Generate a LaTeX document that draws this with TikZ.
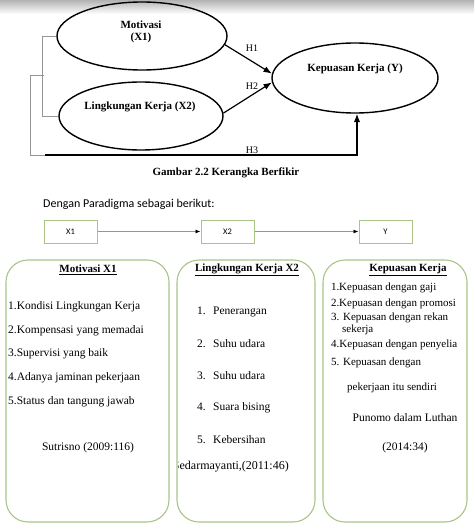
\documentclass[tikz,border=0pt]{standalone}
\usepackage{fontspec}
\setmainfont{Liberation Serif}
\newfontfamily\calibri{Carlito}
\usetikzlibrary{arrows.meta,shapes.geometric,positioning}
\definecolor{panelgreen}{RGB}{169,196,135}
\definecolor{linegray}{RGB}{150,150,150}

\begin{document}
\begin{tikzpicture}[x=1pt, y=-1pt, >=Latex,
    var/.style={draw, line width=1.4pt, ellipse, inner sep=0pt},
    vartext/.style={font=\bfseries\fontsize{11}{12.5}\selectfont, align=center, inner sep=0pt},
    hyp/.style={font=\fontsize{10}{12}\selectfont, inner sep=0pt},
    bracket/.style={draw, linegray, line width=0.6pt},
    box/.style={draw, panelgreen, line width=1pt, minimum width=53pt, minimum height=23pt, inner sep=0pt, text=black, font=\calibri\fontsize{8.5}{10}\selectfont},
    panel/.style={draw, panelgreen, line width=1.1pt, rounded corners=22pt, inner sep=0pt},
    item/.style={anchor=west, inner sep=0pt, font=\fontsize{11.5}{13}\selectfont},
    title/.style={inner sep=0pt, font=\bfseries\fontsize{11}{13}\selectfont}]
    \useasboundingbox (0,0) rectangle (474,530);

    % Shadow along the top edge
    \shade[top color=black!30, bottom color=white] (0,0) rectangle (474,14);

    % Variables
    \node[var, minimum width=170pt, minimum height=68pt] (motiv) at (142,36) {};
    \node[var, minimum width=164pt, minimum height=68pt] (lingk) at (141,116) {};
    \node[var, minimum width=166pt, minimum height=70pt] (kepuas) at (355,78) {};
    \node[vartext] (motivtxt) at (141,32) {Motivasi\\(X1)};
    \node[vartext] (lingktxt) at (140,107) {Lingkungan Kerja (X2)};
    \node[vartext] (kepuastxt) at (355,69) {Kepuasan Kerja (Y)};

    % Hypotheses
    \draw[->, line width=1.2pt] (motiv.-6) -- (kepuas.177);
    \draw[->, line width=1.2pt] (lingk.2) -- (kepuas.183);
    \node[hyp] (h1) at (252,48) {H1};
    \node[hyp] (h2) at (252,86) {H2};

    % Joint effect H3
    \coordinate (h3start) at (45,155);
    \draw[bracket] (motiv.west) -- ++(-14,0) |- (lingk.west);
    \draw[bracket] (44,75) -- (30,75) |- (h3start);
    \draw[->, line width=1.2pt] (h3start) -| ([xshift=2pt]kepuas.south);
    \node[hyp] (h3) at (252,150) {H3};

    % Caption
    \node[inner sep=0pt, font=\bfseries\fontsize{11}{12}\selectfont] (caption) at (226,173) {Gambar 2.2 Kerangka Berfikir};

    % Paradigm
    \node[anchor=west, inner sep=0pt, font=\calibri\fontsize{12}{14}\selectfont] (intro) at (43,204) {Dengan Paradigma sebagai berikut:};
    \node[box] (bx1) at (70.5,231.5) {X1};
    \node[box] (bx2) at (227.5,231.5) {X2};
    \node[box] (by) at (385.5,231.5) {Y};
    \draw[linegray, line width=0.8pt, -{Latex[black, length=5pt, width=4pt]}] (bx1) -- (bx2);
    \draw[linegray, line width=0.8pt, -{Latex[black, length=5pt, width=4pt]}] (bx2) -- (by);

    % Panels
    \node[panel, minimum width=163pt, minimum height=262pt] (pmotiv) at (87.5,391) {};
    \node[panel, minimum width=138pt, minimum height=262pt] (plingk) at (246,391) {};
    \node[panel, minimum width=144pt, minimum height=262pt] (pkepuas) at (395,391) {};

    % Motivasi X1
    \node[title] (tmotiv) at (88,270) {\underline{Motivasi X1}};
    \foreach \t/\y [count=\i] in {Kondisi Lingkungan Kerja/307, Kompensasi yang memadai/331, Supervisi yang baik/354, Adanya jaminan pekerjaan/378, Status dan tangung jawab/402}
        \node[item] (m\i) at (8,\y) {\i.\t};
    \node[item, anchor=center] (srcmotiv) at (88,448) {Sutrisno (2009:116)};

    % Lingkungan Kerja X2
    \node[title] (tlingk) at (247,270) {\underline{Lingkungan Kerja X2}};
    \foreach \t/\y [count=\i] in {Penerangan/312, Suhu udara/344, Suhu udara/376, Suara bising/408, Kebersihan/440}
        \node[item] (l\i) at (197,\y) {\makebox[16pt][l]{\i.}\t};
    \begin{scope}
        \clip (178,455) rectangle (315,480);
        \node[item, anchor=east, font=\fontsize{12}{13}\selectfont] (srclingk) at (289,467) {Sedarmayanti,(2011:46)};
    \end{scope}

    % Kepuasan Kerja
    \node[title] (tkepuas) at (408,270) {\underline{Kepuasan Kerja}};
    \node[item, font=\fontsize{11}{13}\selectfont] (k1) at (331,288) {\makebox[8pt][l]{1.}Kepuasan dengan gaji};
    \node[item, font=\fontsize{11}{13}\selectfont] (k2) at (331,304) {\makebox[8pt][l]{2.}Kepuasan dengan promosi};
    \node[item, font=\fontsize{11}{13}\selectfont] (k3) at (331,318) {3. Kepuasan dengan rekan};
    \node[item, font=\fontsize{11}{13}\selectfont] (k3b) at (342,330) {sekerja};
    \node[item, font=\fontsize{11}{13}\selectfont] (k4) at (331,345) {4.Kepuasan dengan penyelia};
    \node[item, font=\fontsize{11}{13}\selectfont] (k5) at (331,363) {5. Kepuasan dengan};
    \node[item, font=\fontsize{11}{13}\selectfont] (k5b) at (347,388) {pekerjaan itu sendiri};
    \node[item, anchor=center] (srckepuas) at (405,418) {Punomo dalam Luthan};
    \node[item, anchor=center] (yrkepuas) at (405,448) {(2014:34)};
\end{tikzpicture}
\end{document}
